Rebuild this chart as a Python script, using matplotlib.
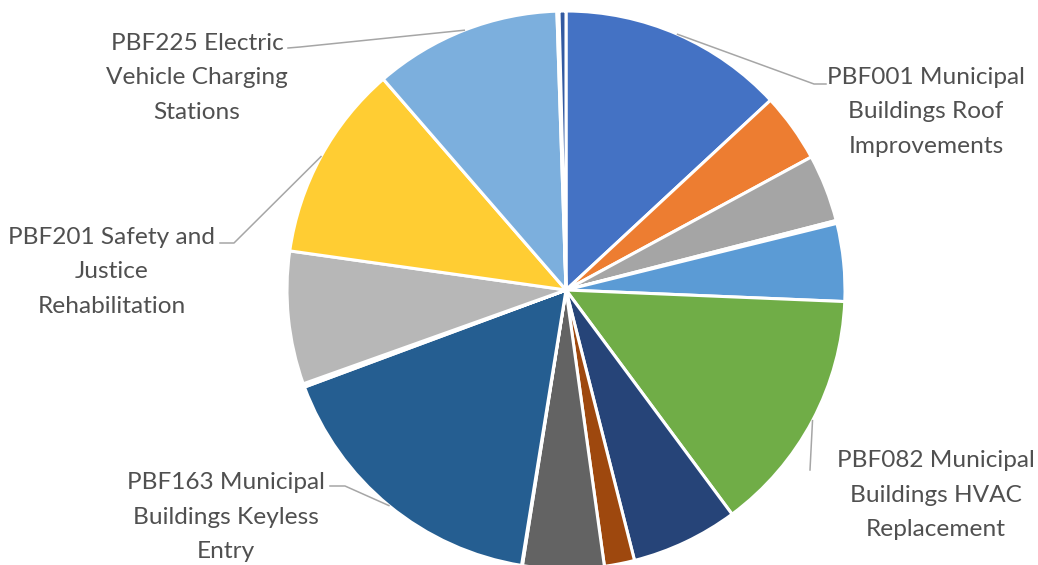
import numpy as np
import matplotlib
matplotlib.use("Agg")
import matplotlib.pyplot as plt

# Project shares, in clockwise order starting at 12 o'clock
projects = [
    "PBF001 Municipal\nBuildings Roof\nImprovements",
    "", "", "", "",
    "PBF082 Municipal\nBuildings HVAC\nReplacement",
    "", "", "", "",
    "PBF163 Municipal\nBuildings Keyless\nEntry",
    "", "", "",
    "",
    "PBF201 Safety and\nJustice\nRehabilitation",
    "PBF225 Electric\nVehicle Charging\nStations",
    "", "",
]
shares = [13.1, 4.0, 3.9, 0.17, 4.5, 14.2, 6.2, 1.75, 4.7, 0.05,
          16.8, 0.1, 0.05, 0.05, 7.7, 11.4, 10.85, 0.12, 0.4]
colors = ["#4472C4", "#ED7D31", "#A5A5A5", "#FFC000", "#5B9BD5", "#70AD47",
          "#264478", "#9E480E", "#636363", "#997300", "#255E91", "#43682B",
          "#698ED0", "#F1975A", "#B7B7B7", "#FFCD33", "#7CAFDD", "#8CC168",
          "#335AA1"]

# Label block centres and leader elbows (figure pixels, origin top-left)
label_pos = {
    0: (926, 112),
    5: (936, 495),
    10: (226, 517),
    15: (112, 272),
    16: (197, 78),
}
leader_elbow = {
    0: [(826, 84), (814, 84)],
    5: [(810, 470), (810, 470)],
    10: [(330, 486), (345, 486)],
    15: [(220, 243), (234, 243)],
    16: [(288, 48), (300, 47)],
}

W, H = 1038, 565
CX, CY, R = 566, 290, 279

fig = plt.figure(figsize=(W / 100, H / 100), dpi=100)
ax = fig.add_axes([(CX - R) / W, (H - CY - R) / H, 2 * R / W, 2 * R / H])

wedges, _ = ax.pie(shares, colors=colors, startangle=90, counterclock=False,
                   radius=1.0, wedgeprops=dict(edgecolor="white", linewidth=2.2))
for w in wedges:
    w.set_clip_on(False)
ax.set_xlim(-1, 1)
ax.set_ylim(-1, 1)
ax.set_aspect("auto")
ax.axis("off")


def to_data(px, py):
    return (px - CX) / R, (CY - py) / R


for i, (lx, ly) in label_pos.items():
    w = wedges[i]
    mid = np.deg2rad((w.theta1 + w.theta2) / 2)
    ex, ey = np.cos(mid), np.sin(mid)
    pts = [to_data(*p) for p in leader_elbow[i]][::-1]
    xs = [ex] + [p[0] for p in pts]
    ys = [ey] + [p[1] for p in pts]
    ax.plot(xs, ys, color="#A6A6A6", lw=1.1, clip_on=False, zorder=5)
    tx, ty = to_data(lx, ly)
    ax.text(tx, ty, projects[i], ha="center", va="center", multialignment="center",
            fontsize=17.6, family="Lato", color="#505050", linespacing=1.78,
            clip_on=False)

fig.savefig("out.png", dpi=100, facecolor="white")
